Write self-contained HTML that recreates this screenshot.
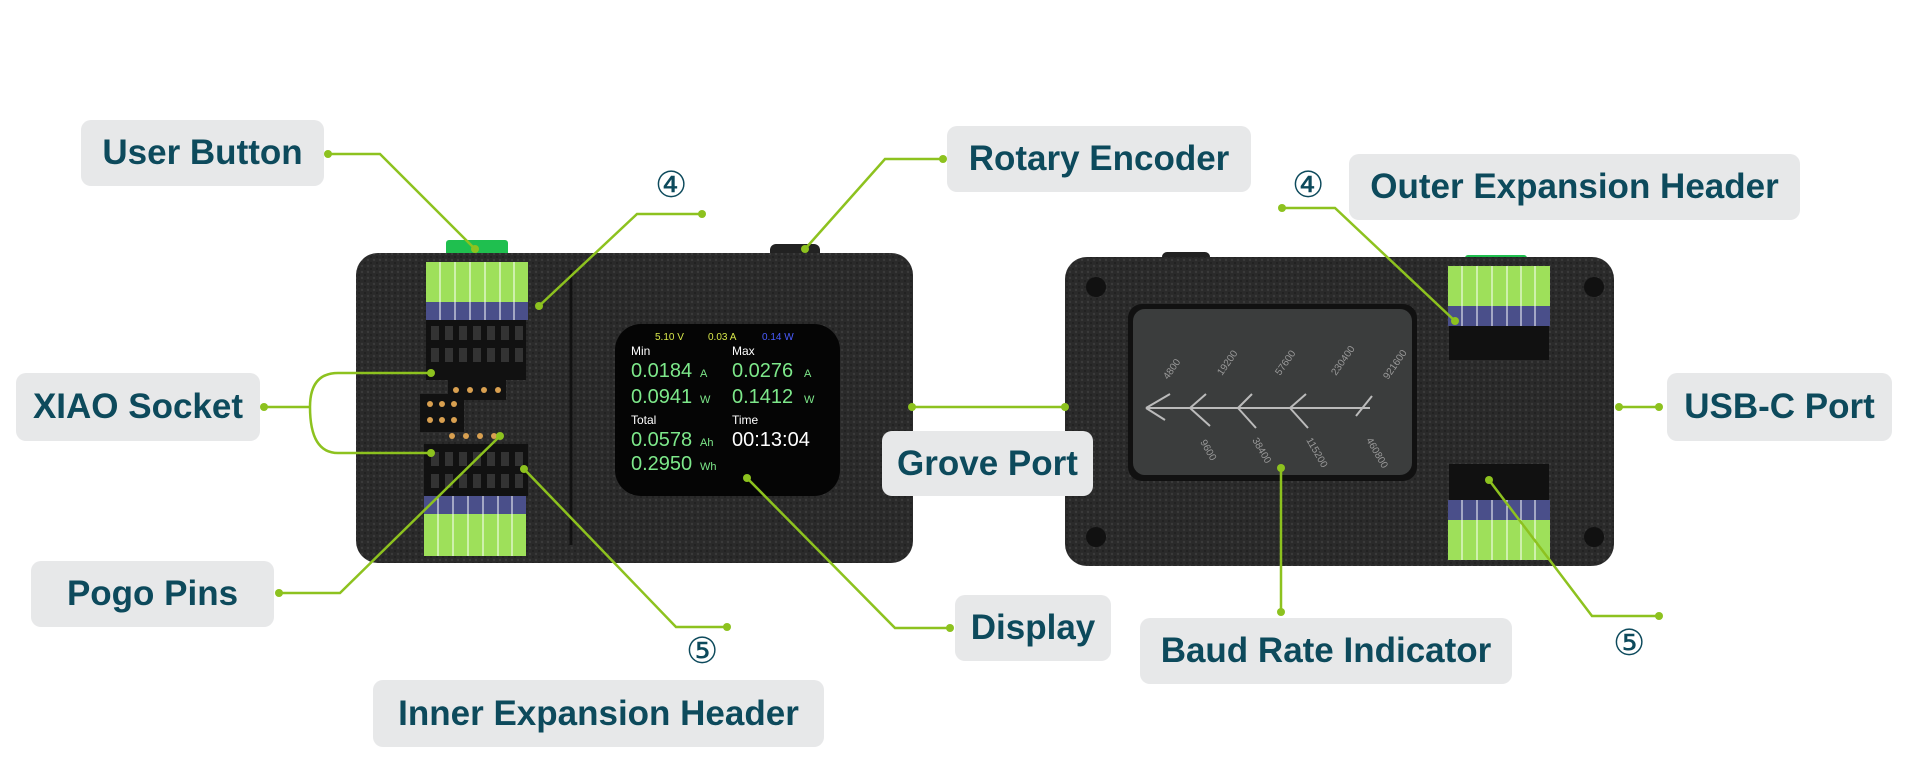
<!DOCTYPE html>
<html><head><meta charset="utf-8"><style>
html,body{margin:0;padding:0;background:#fff;}
body{width:1920px;height:783px;overflow:hidden;position:relative;font-family:"Liberation Sans",sans-serif;}
.lb{position:absolute;background:#e7e8e9;border-radius:10px;color:#0d4a5c;font-weight:bold;font-size:35px;display:flex;align-items:center;justify-content:center;white-space:nowrap;}
.num{position:absolute;color:#0d4a5c;font-size:36px;}
svg{position:absolute;left:0;top:0;}
</style></head><body>
<svg width="1920" height="783" viewBox="0 0 1920 783">
<defs>
<pattern id="tx" width="6" height="6" patternUnits="userSpaceOnUse"><rect width="6" height="6" fill="#2a2a2a"/><circle cx="2" cy="2" r="1.2" fill="#3a3a3a"/><circle cx="5" cy="5" r="0.9" fill="#1c1c1c"/></pattern>
</defs>
<rect x="446" y="240" width="62" height="16" rx="3" fill="#1fbf4f"/>
<rect x="770" y="244" width="50" height="16" rx="6" fill="#222"/>
<rect x="356" y="253" width="557" height="310" rx="22" fill="url(#tx)"/>
<line x1="571" y1="270" x2="571" y2="545" stroke="#111" stroke-width="3"/>
<rect x="426" y="262" width="102" height="40" fill="#9ee05a"/>
<rect x="426" y="302" width="102" height="18" fill="#4a4f8a"/>
<g stroke="#fff" stroke-width="1"><line x1="440" y1="262" x2="440" y2="320"/><line x1="455" y1="262" x2="455" y2="320"/><line x1="470" y1="262" x2="470" y2="320"/><line x1="485" y1="262" x2="485" y2="320"/><line x1="500" y1="262" x2="500" y2="320"/><line x1="514" y1="262" x2="514" y2="320"/></g>
<rect x="426" y="320" width="100" height="60" fill="#111"/>
<g fill="#333"><rect x="431" y="326" width="8" height="14"/><rect x="445" y="326" width="8" height="14"/><rect x="459" y="326" width="8" height="14"/><rect x="473" y="326" width="8" height="14"/><rect x="487" y="326" width="8" height="14"/><rect x="501" y="326" width="8" height="14"/><rect x="515" y="326" width="8" height="14"/>
<rect x="431" y="348" width="8" height="14"/><rect x="445" y="348" width="8" height="14"/><rect x="459" y="348" width="8" height="14"/><rect x="473" y="348" width="8" height="14"/><rect x="487" y="348" width="8" height="14"/><rect x="501" y="348" width="8" height="14"/><rect x="515" y="348" width="8" height="14"/></g>
<rect x="448" y="380" width="58" height="20" fill="#111"/>
<rect x="420" y="394" width="44" height="38" fill="#111"/>
<g fill="#d9a050"><circle cx="456" cy="390" r="3"/><circle cx="470" cy="390" r="3"/><circle cx="484" cy="390" r="3"/><circle cx="498" cy="390" r="3"/><circle cx="430" cy="404" r="3"/><circle cx="442" cy="404" r="3"/><circle cx="454" cy="404" r="3"/><circle cx="430" cy="420" r="3"/><circle cx="442" cy="420" r="3"/><circle cx="454" cy="420" r="3"/><circle cx="452" cy="436" r="3"/><circle cx="466" cy="436" r="3"/><circle cx="480" cy="436" r="3"/><circle cx="494" cy="436" r="3"/></g>
<rect x="424" y="444" width="104" height="52" fill="#111"/>
<g fill="#333"><rect x="431" y="452" width="8" height="14"/><rect x="445" y="452" width="8" height="14"/><rect x="459" y="452" width="8" height="14"/><rect x="473" y="452" width="8" height="14"/><rect x="487" y="452" width="8" height="14"/><rect x="501" y="452" width="8" height="14"/><rect x="515" y="452" width="8" height="14"/>
<rect x="431" y="474" width="8" height="14"/><rect x="445" y="474" width="8" height="14"/><rect x="459" y="474" width="8" height="14"/><rect x="473" y="474" width="8" height="14"/><rect x="487" y="474" width="8" height="14"/><rect x="501" y="474" width="8" height="14"/><rect x="515" y="474" width="8" height="14"/></g>
<rect x="424" y="496" width="102" height="18" fill="#4a4f8a"/>
<rect x="424" y="514" width="102" height="42" fill="#9ee05a"/>
<g stroke="#fff" stroke-width="1"><line x1="438" y1="496" x2="438" y2="556"/><line x1="453" y1="496" x2="453" y2="556"/><line x1="468" y1="496" x2="468" y2="556"/><line x1="483" y1="496" x2="483" y2="556"/><line x1="498" y1="496" x2="498" y2="556"/><line x1="512" y1="496" x2="512" y2="556"/></g>
<rect x="615" y="324" width="225" height="172" rx="26" fill="#050505"/>
<g font-family="Liberation Sans,sans-serif">
<text x="655" y="340" font-size="10" fill="#d8e84a">5.10  V</text><text x="708" y="340" font-size="10" fill="#d8e84a">0.03  A</text><text x="762" y="340" font-size="10" fill="#4a5cff">0.14  W</text>
<text x="631" y="355" font-size="12" fill="#fff">Min</text><text x="732" y="355" font-size="12" fill="#fff">Max</text>
<text x="631" y="377" font-size="20" fill="#7de88a">0.0184</text><text x="700" y="377" font-size="11" fill="#7de88a">A</text>
<text x="732" y="377" font-size="20" fill="#7de88a">0.0276</text><text x="804" y="377" font-size="11" fill="#7de88a">A</text>
<text x="631" y="403" font-size="20" fill="#7de88a">0.0941</text><text x="700" y="403" font-size="11" fill="#7de88a">W</text>
<text x="732" y="403" font-size="20" fill="#7de88a">0.1412</text><text x="804" y="403" font-size="11" fill="#7de88a">W</text>
<text x="631" y="424" font-size="12" fill="#fff">Total</text><text x="732" y="424" font-size="12" fill="#fff">Time</text>
<text x="631" y="446" font-size="20" fill="#7de88a">0.0578</text><text x="700" y="446" font-size="11" fill="#7de88a">Ah</text>
<text x="732" y="446" font-size="20" fill="#fff">00:13:04</text>
<text x="631" y="470" font-size="20" fill="#7de88a">0.2950</text><text x="700" y="470" font-size="11" fill="#7de88a">Wh</text>
</g>
<rect x="1162" y="252" width="48" height="14" rx="5" fill="#222"/>
<rect x="1465" y="255" width="62" height="14" rx="3" fill="#1fbf4f"/>
<rect x="1065" y="257" width="549" height="309" rx="22" fill="url(#tx)"/>
<g fill="#111"><circle cx="1096" cy="287" r="10"/><circle cx="1594" cy="287" r="10"/><circle cx="1096" cy="537" r="10"/><circle cx="1594" cy="537" r="10"/></g>
<rect x="1128" y="304" width="289" height="177" rx="14" fill="#111"/>
<rect x="1133" y="309" width="279" height="166" rx="12" fill="#3b3d3d"/>
<g stroke="#bbb" stroke-width="2" fill="none"><line x1="1146" y1="408" x2="1370" y2="408"/><path d="M1146 408 L1170 394 M1146 408 L1165 420 M1190 408 L1206 394 M1190 408 L1210 426 M1238 408 L1252 394 M1238 408 L1256 428 M1290 408 L1306 394 M1290 408 L1308 428 M1356 416 L1372 396"/></g>
<g font-size="10" fill="#999" font-family="Liberation Sans,sans-serif">
<text transform="translate(1168,380) rotate(-55)">4800</text><text transform="translate(1222,376) rotate(-55)">19200</text><text transform="translate(1280,376) rotate(-55)">57600</text><text transform="translate(1336,376) rotate(-55)">230400</text><text transform="translate(1388,380) rotate(-55)">921600</text>
<text transform="translate(1200,442) rotate(60)">9600</text><text transform="translate(1252,440) rotate(60)">38400</text><text transform="translate(1306,440) rotate(60)">115200</text><text transform="translate(1366,440) rotate(60)">460800</text></g>
<rect x="1448" y="266" width="102" height="40" fill="#9ee05a"/>
<rect x="1448" y="306" width="102" height="20" fill="#4a4f8a"/>
<rect x="1449" y="326" width="100" height="34" fill="#111"/>
<rect x="1449" y="464" width="100" height="36" fill="#111"/>
<rect x="1448" y="500" width="102" height="20" fill="#4a4f8a"/>
<rect x="1448" y="520" width="102" height="40" fill="#9ee05a"/>
<g stroke="#fff" stroke-width="1"><line x1="1462" y1="266" x2="1462" y2="326"/><line x1="1477" y1="266" x2="1477" y2="326"/><line x1="1492" y1="266" x2="1492" y2="326"/><line x1="1507" y1="266" x2="1507" y2="326"/><line x1="1521" y1="266" x2="1521" y2="326"/><line x1="1535" y1="266" x2="1535" y2="326"/>
<line x1="1462" y1="500" x2="1462" y2="560"/><line x1="1477" y1="500" x2="1477" y2="560"/><line x1="1492" y1="500" x2="1492" y2="560"/><line x1="1507" y1="500" x2="1507" y2="560"/><line x1="1521" y1="500" x2="1521" y2="560"/><line x1="1535" y1="500" x2="1535" y2="560"/></g>
<g stroke="#8dc21f" stroke-width="2.5" fill="none">
<polyline points="328,154 380,154 475,249"/>
<polyline points="702,214 637,214 539,306"/>
<polyline points="943,159 885,159 805,249"/>
<path d="M264,407 L310,407 M431,373 L338,373 Q310,373 310,407 Q310,453 338,453 L431,453"/>
<polyline points="912,407 1065,407"/>
<polyline points="1282,208 1335,208 1455,321"/>
<polyline points="1619,407 1659,407"/>
<polyline points="279,593 340,593 500,436"/>
<polyline points="727,627 676,627 524,469"/>
<polyline points="950,628 895,628 747,478"/>
<polyline points="1281,612 1281,468"/>
<polyline points="1659,616 1592,616 1489,480"/>
</g>
<g fill="#8dc21f"><circle cx="328" cy="154" r="4"/><circle cx="702" cy="214" r="4"/><circle cx="943" cy="159" r="4"/><circle cx="264" cy="407" r="4"/><circle cx="912" cy="407" r="4"/><circle cx="1065" cy="407" r="4"/><circle cx="1282" cy="208" r="4"/><circle cx="1619" cy="407" r="4"/><circle cx="1659" cy="407" r="4"/><circle cx="279" cy="593" r="4"/><circle cx="727" cy="627" r="4"/><circle cx="950" cy="628" r="4"/><circle cx="1281" cy="612" r="4"/><circle cx="1659" cy="616" r="4"/><circle cx="475" cy="249" r="4"/><circle cx="539" cy="306" r="4"/><circle cx="805" cy="249" r="4"/><circle cx="431" cy="373" r="4"/><circle cx="431" cy="453" r="4"/><circle cx="1455" cy="321" r="4"/><circle cx="500" cy="436" r="4"/><circle cx="524" cy="469" r="4"/><circle cx="747" cy="478" r="4"/><circle cx="1281" cy="468" r="4"/><circle cx="1489" cy="480" r="4"/></g>
</svg>
<div class="lb" style="left:81px;top:120px;width:243px;height:66px">User Button</div>
<div class="lb" style="left:947px;top:126px;width:304px;height:66px">Rotary Encoder</div>
<div class="lb" style="left:1349px;top:154px;width:451px;height:66px">Outer Expansion Header</div>
<div class="lb" style="left:16px;top:373px;width:244px;height:68px">XIAO Socket</div>
<div class="lb" style="left:1667px;top:373px;width:225px;height:68px">USB-C Port</div>
<div class="lb" style="left:882px;top:431px;width:211px;height:65px">Grove Port</div>
<div class="lb" style="left:31px;top:561px;width:243px;height:66px">Pogo Pins</div>
<div class="lb" style="left:955px;top:595px;width:156px;height:66px">Display</div>
<div class="lb" style="left:1140px;top:618px;width:372px;height:66px">Baud Rate Indicator</div>
<div class="lb" style="left:373px;top:680px;width:451px;height:67px">Inner Expansion Header</div>
<div class="num" style="left:655px;top:164px">④</div>
<div class="num" style="left:1292px;top:164px">④</div>
<div class="num" style="left:686px;top:630px">⑤</div>
<div class="num" style="left:1613px;top:622px">⑤</div>
</body></html>
